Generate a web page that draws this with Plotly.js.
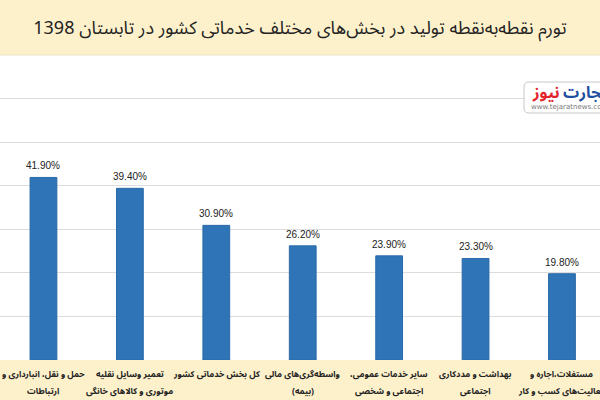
<!DOCTYPE html>
<html>
<head>
<meta charset="utf-8">
<script src="https://cdn.plot.ly/plotly-3.0.1.min.js"></script>
<style>html,body{margin:0;padding:0;background:#fdf1cc;}#chart{width:600px;height:400px;}</style>
</head>
<body>
<div id="chart"></div>
<script>
var categories = [
  "حمل و نقل، انبارداری و<br>ارتباطات",
  "تعمیر وسایل نقلیه<br>موتوری و کالاهای خانگی",
  "کل بخش خدماتی کشور",
  "واسطه‌گری‌های مالی<br>\u200f(بیمه)\u200f",
  "سایر خدمات عمومی،\u200f<br>اجتماعی و شخصی",
  "بهداشت و مددکاری<br>اجتماعی",
  "مستغلات،اجاره و<br>فعالیت‌های کسب و کار"
];
var values = [41.9, 39.4, 30.9, 26.2, 23.9, 23.3, 19.8];
var valueLabels = values.map(function(v){ return v.toFixed(2) + "%"; });
var titleText = "تورم نقطه‌به‌نقطه تولید در بخش‌های مختلف خدماتی کشور در تابستان 1398";

// pixel helpers for the watermark (plot area: x 0..600, y 55..360)
var XR = [-0.503, 6.44], YR = [0, 70];
function px2x(p){ return XR[0] + (XR[1] - XR[0]) * p / 600; }
function py2y(p){ return YR[0] + (YR[1] - YR[0]) * (360 - p) / 305; }
function py(p){ return (360 - p) / 305; }
var arabicFont = 'Noto Sans Arabic, Noto Naskh Arabic, DejaVu Sans, sans-serif';

var annotations = categories.map(function(c, i){
  return {x: c, y: values[i], xref: 'x', yref: 'y', text: valueLabels[i],
    showarrow: false, yanchor: 'bottom', yshift: 4,
    font: {family: 'Liberation Sans, Arial, sans-serif', size: 10, color: '#222'}};
});
// category labels, one annotation per line
categories.forEach(function(c){
  c.split('<br>').forEach(function(line, j){
    annotations.push({x: c, y: py(374 + 17 * j), xref: 'x', yref: 'paper', text: '<b>' + line + '</b>',
      showarrow: false, yanchor: 'middle', xanchor: 'center',
      font: {family: arabicFont, size: 8.5, color: '#222'}});
  });
});
// watermark logo
annotations.push({x: px2x(562), y: py2y(93), xref: 'x', yref: 'y', text: '<b>نیوز</b>', xanchor: 'right', yanchor: 'middle',
  showarrow: false, font: {family: arabicFont, size: 16, color: '#e3242b'}});
annotations.push({x: px2x(561), y: py2y(93), xref: 'x', yref: 'y', text: '<b>تجارت</b>', xanchor: 'left', yanchor: 'middle',
  showarrow: false, font: {family: arabicFont, size: 16, color: '#1f4fa0'}});
annotations.push({x: px2x(529), y: py2y(107), xref: 'x', yref: 'y', xanchor: 'left', yanchor: 'middle', text: 'www.tejaratnews.com',
  showarrow: false, font: {family: 'DejaVu Sans, sans-serif', size: 7, color: '#777'}});

var trace = {
  type: 'bar', x: categories, y: values,
  width: 0.31,
  marker: {color: '#2e74b6', line: {color: '#2a6aa8', width: 1}},
  hoverinfo: 'none'
};

var layout = {
  width: 600, height: 400,
  margin: {l: 0, r: 0, t: 55, b: 40, pad: 0},
  paper_bgcolor: '#fdf1cc',
  plot_bgcolor: '#ffffff',
  title: {text: titleText, x: 0.5, xanchor: 'center', y: 0.932, yanchor: 'middle',
    font: {family: arabicFont, size: 18, color: '#222'}},
  xaxis: {type: 'category', range: XR, showgrid: false, zeroline: false,
    showline: false, ticks: '', showticklabels: false},
  yaxis: {range: YR, dtick: 10, showticklabels: false, showgrid: true,
    gridcolor: '#dcdcdc', gridwidth: 1, zeroline: false, showline: false},
  shapes: [{type: 'path', xref: 'paper', yref: 'paper',
    path: 'M ' + (529/600) + ',' + py(82) + ' L 1.05,' + py(82) + ' L 1.05,' + py(113) + ' L ' + (529/600) + ',' + py(113) + ' Q ' + (524/600) + ',' + py(113) + ' ' + (524/600) + ',' + py(108) + ' L ' + (524/600) + ',' + py(87) + ' Q ' + (524/600) + ',' + py(82) + ' ' + (529/600) + ',' + py(82) + ' Z',
    fillcolor: '#ffffff', line: {color: '#c8c8c8', width: 1}, layer: 'above'},
    {type: 'line', xref: 'paper', yref: 'paper', x0: 0, x1: 1, y0: 1, y1: 1, line: {color: '#ece4c8', width: 1}}],
  annotations: annotations,
  showlegend: false
};

Plotly.newPlot('chart', [trace], layout, {displayModeBar: false, staticPlot: true});
</script>
</body>
</html>
